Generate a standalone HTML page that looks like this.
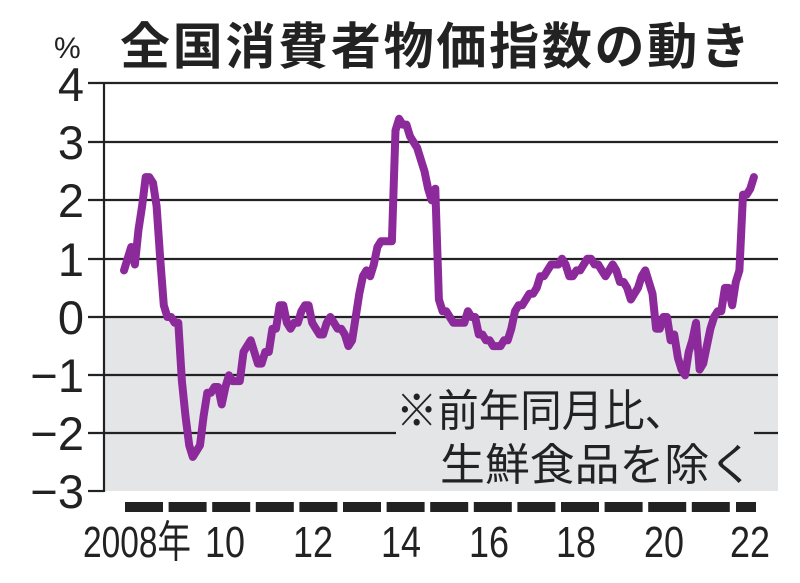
<!DOCTYPE html>
<html><head><meta charset="utf-8"><style>
html,body{margin:0;padding:0;background:#fff;}
svg{display:block;}
</style></head><body>
<svg width="800" height="583" viewBox="0 0 800 583" xmlns="http://www.w3.org/2000/svg">
<rect x="0" y="0" width="800" height="583" fill="#fff"/>
<rect x="104" y="317" width="674" height="174" fill="#e4e5e7"/>
<g stroke="#222" stroke-width="2.2">
<line x1="88" y1="83" x2="778" y2="83"/>
<line x1="88" y1="142" x2="778" y2="142"/>
<line x1="88" y1="200" x2="778" y2="200"/>
<line x1="88" y1="259" x2="778" y2="259"/>
<line x1="88" y1="317" x2="778" y2="317"/>
<line x1="88" y1="375" x2="778" y2="375"/>
<line x1="88" y1="433" x2="396" y2="433"/>
<line x1="754" y1="433" x2="778" y2="433"/>
<line x1="88" y1="491" x2="104" y2="491"/>
<line x1="104" y1="83" x2="104" y2="492"/>
</g>
<g font-family="Liberation Sans, sans-serif" font-size="47" fill="#222" text-anchor="end">
<text x="84" y="101">4</text>
<text x="84" y="159">3</text>
<text x="84" y="217">2</text>
<text x="84" y="276">1</text>
<text x="84" y="334">0</text>
<text x="84" y="392">−1</text>
<text x="84" y="450">−2</text>
<text x="84" y="508">−3</text>
</g>
<text x="54" y="58" font-family="Liberation Sans, sans-serif" font-size="30" fill="#222">%</text>
<text x="120" y="64" font-family="Liberation Sans, 'Noto Sans CJK JP', sans-serif" font-weight="bold" font-size="50" fill="#222" textLength="630">全国消費者物価指数の動き</text>
<g id="bars" fill="#222"></g>
<g font-family="Liberation Sans, 'Noto Sans CJK JP', sans-serif" font-size="44" fill="#222">
<text x="83" y="557" textLength="108" lengthAdjust="spacingAndGlyphs">2008年</text>
<text x="205" y="557" textLength="40" lengthAdjust="spacingAndGlyphs">10</text>
<text x="293" y="557" textLength="40" lengthAdjust="spacingAndGlyphs">12</text>
<text x="381" y="557" textLength="40" lengthAdjust="spacingAndGlyphs">14</text>
<text x="469" y="557" textLength="40" lengthAdjust="spacingAndGlyphs">16</text>
<text x="556" y="557" textLength="40" lengthAdjust="spacingAndGlyphs">18</text>
<text x="644" y="557" textLength="40" lengthAdjust="spacingAndGlyphs">20</text>
<text x="730" y="557" textLength="40" lengthAdjust="spacingAndGlyphs">22</text>
</g>
<polyline id="line" fill="none" stroke="#8d2a9b" stroke-width="8" stroke-linejoin="round" stroke-linecap="round" points=""/>
<g font-family="Liberation Sans, 'Noto Sans CJK JP', sans-serif" font-size="44" fill="#222">
<text x="396" y="426" textLength="290" lengthAdjust="spacingAndGlyphs">※前年同月比、</text>
<text x="440" y="480" textLength="314" lengthAdjust="spacingAndGlyphs">生鮮食品を除く</text>
</g>
</svg>
<script>
var d=[0.8,1.0,1.2,0.9,1.5,1.9,2.4,2.4,2.3,1.9,1.0,0.2,
0.0,0.0,-0.1,-0.1,-1.1,-1.7,-2.2,-2.4,-2.3,-2.2,-1.7,-1.3,
-1.3,-1.2,-1.2,-1.5,-1.2,-1.0,-1.1,-1.1,-1.1,-0.6,-0.5,-0.4,
-0.6,-0.8,-0.8,-0.6,-0.6,-0.2,-0.2,0.2,0.2,-0.1,-0.2,-0.1,
-0.1,0.1,0.2,0.2,-0.1,-0.2,-0.3,-0.3,-0.1,0.0,-0.1,-0.2,
-0.2,-0.3,-0.5,-0.4,0.0,0.4,0.7,0.8,0.7,0.9,1.2,1.3,
1.3,1.3,1.3,3.2,3.4,3.3,3.3,3.1,3.0,2.9,2.7,2.5,
2.2,2.0,2.2,0.3,0.1,0.1,0.0,-0.1,-0.1,-0.1,-0.1,0.1,
0.0,0.0,-0.3,-0.3,-0.4,-0.4,-0.5,-0.5,-0.5,-0.4,-0.4,-0.2,
0.1,0.2,0.2,0.3,0.4,0.4,0.5,0.7,0.7,0.8,0.9,0.9,
0.9,1.0,0.9,0.7,0.7,0.8,0.8,0.9,1.0,1.0,0.9,0.9,
0.8,0.7,0.8,0.9,0.8,0.6,0.6,0.5,0.3,0.4,0.5,0.7,
0.8,0.6,0.4,-0.2,-0.2,0.0,0.0,-0.4,-0.3,-0.7,-0.9,-1.0,
-0.6,-0.4,-0.1,-0.9,-0.8,-0.5,-0.2,0.0,0.1,0.1,0.5,0.5,
0.2,0.6,0.8,2.1,2.1,2.2,2.4];
var p=[];for(var i=0;i<d.length;i++){p.push((124+i*3.62).toFixed(1)+","+(317-d[i]*58.3).toFixed(1));}
document.getElementById("line").setAttribute("points",p.join(" "));
var g=document.getElementById("bars"),s="";
for(var y=0;y<14;y++){s+='<rect x="'+(125+y*43.6).toFixed(1)+'" y="502" width="38" height="10"/>';}
s+='<rect x="736" y="502" width="20" height="10"/>';
g.innerHTML=s;
</script>
</body></html>
